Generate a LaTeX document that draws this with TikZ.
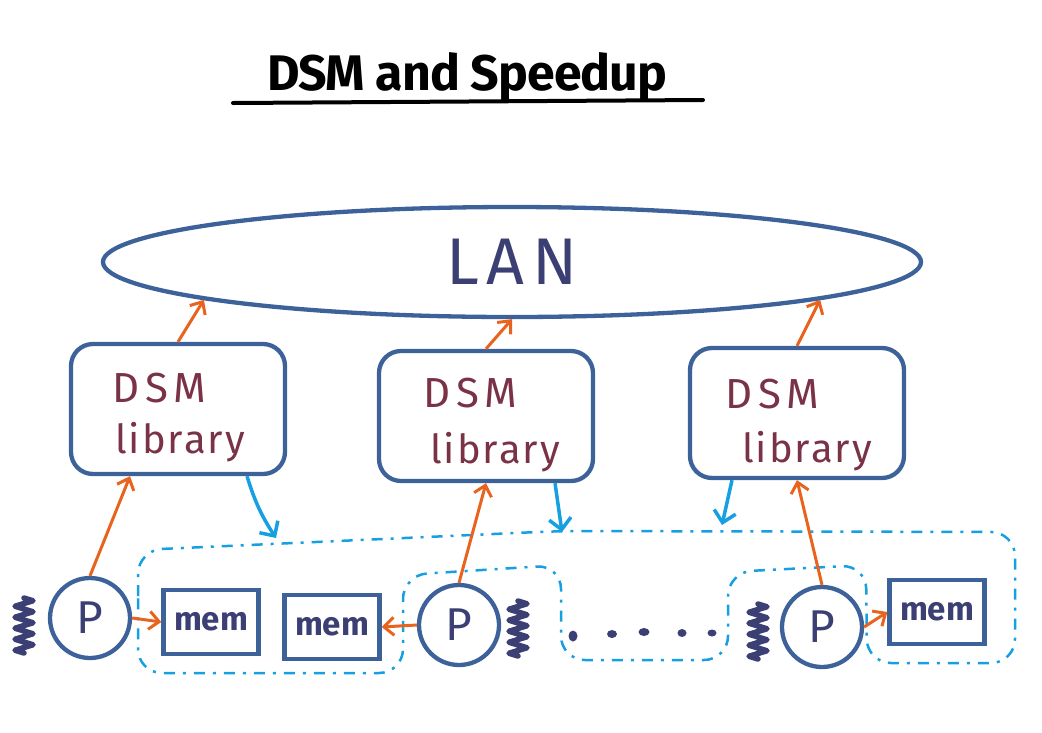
\documentclass[tikz,border=0pt]{standalone}
\usepackage{fontspec}
\setmainfont{Fira Sans}
\usetikzlibrary{shapes.geometric,arrows.meta,calc,decorations.pathmorphing}
\definecolor{boxblue}{RGB}{61,97,153}
\definecolor{navy}{RGB}{59,63,115}
\definecolor{maroon}{RGB}{122,50,70}
\definecolor{orng}{RGB}{232,100,30}
\definecolor{cyanb}{RGB}{22,160,225}
\begin{document}
\begin{tikzpicture}[x=1pt,y=-1pt,
 libbox/.style={draw=boxblue,line width=4.3pt,rounded corners=22pt,minimum width=214pt,minimum height=130pt,inner sep=0pt},
 dsmtext/.style={anchor=base west,inner sep=0pt,text=maroon,font=\fontsize{42}{46}\selectfont\addfontfeature{LetterSpace=14}},
 librtext/.style={anchor=base west,inner sep=0pt,text=maroon,font=\fontsize{40}{46}\selectfont\addfontfeature{LetterSpace=5}},
 membox/.style={draw=boxblue,line width=4.3pt,minimum width=95pt,minimum height=64pt,inner sep=0pt,text=navy,font=\fontsize{33}{35}\selectfont\bfseries},
 proc/.style={circle,draw=boxblue,line width=4.3pt,minimum size=80pt,inner sep=0pt,text=navy,font=\fontsize{46}{48}\selectfont},
 oarrow/.style={draw=orng,line width=3pt,-{Straight Barb[length=10pt,width=18pt]}},
 barrow/.style={draw=cyanb,line width=3.5pt,-{Straight Barb[length=11pt,width=22pt]}},
 spring/.style={draw=navy,line width=5.5pt,line join=round,line cap=round,decorate,decoration={zigzag,segment length=11pt,amplitude=9pt}},
 region/.style={draw=cyanb,line width=2.5pt,rounded corners=24pt,dash pattern=on 11pt off 8pt on 3pt off 8pt},
]
\path[use as bounding box] (0,0) rectangle (1042,732);

% title
\node[anchor=base,font=\fontsize{50}{54}\selectfont\bfseries\addfontfeature{LetterSpace=-2}] (title) at (467,90) {DSM and Speedup};
\coordinate (ul1) at (233,103);
\coordinate (ul2) at (703,100);
\draw[line width=4pt,line cap=round] (ul1) -- (ul2);

% LAN
\node[ellipse,draw=boxblue,line width=4.3pt,minimum width=818pt,minimum height=110pt,inner sep=0pt,text=navy,font=\fontsize{66}{70}\selectfont\addfontfeature{LetterSpace=12}] (lan) at (512,262) {LAN};

% DSM libraries
\node[libbox] (lib1) at (178,409) {};
\node[libbox] (lib2) at (486,416) {};
\node[libbox] (lib3) at (797,413) {};
\node[dsmtext] (d1) at (112,402) {DSM};
\node[librtext] (l1) at (115,453) {library};
\node[dsmtext] (d2) at (423,407) {DSM};
\node[librtext] (l2) at (430,463) {library};
\node[dsmtext] (d3) at (725,408) {DSM};
\node[librtext] (l3) at (742,462) {library};

% processors
\node[proc] (p1) at (90,618) {P};
\node[proc] (p2) at (459,625) {P};
\node[proc] (p3) at (822,627) {P};

% memories
\node[membox] (mem1) at (211,622) {mem};
\node[membox] (mem2) at (332,627) {mem};
\node[membox] (mem3) at (937,612) {mem};

% springs
\coordinate (s1a) at (24,598); \coordinate (s1b) at (24,653);
\coordinate (s2a) at (518,601); \coordinate (s2b) at (518,656);
\coordinate (s3a) at (758,604); \coordinate (s3b) at (758,659);
\draw[spring] (s1a) -- (s1b);
\draw[spring] (s2a) -- (s2b);
\draw[spring] (s3a) -- (s3b);

% dots
\fill[navy] (573,636) ellipse (4.5pt and 5.5pt);
\fill[navy] (612,634) ellipse (5pt and 4pt);
\fill[navy] (644,632) ellipse (5.5pt and 4pt);
\fill[navy] (682,633) ellipse (4.5pt and 4pt);
\fill[navy] (712,633) ellipse (4.5pt and 3.5pt);

% shared memory region
\draw[region] (138,620) -- (138,550) -- (560,531) -- (1015,532) -- (1015,663) -- (867,663) -- (866,565) -- (728,572) -- (728,660) -- (561,660) -- (561,565) -- (403,575) -- (403,673) -- (138,673) -- cycle;

% orange arrows
\draw[oarrow] (lib1.north) -- (lan.187.8);
\draw[oarrow] (lib2.north) -- (lan.south);
\draw[oarrow] (lib3.north) -- (lan.-7.9);
\draw[oarrow] (p1.north) -- ($(lib1.south)+(-48,0)$);
\draw[oarrow] (p2.north) -- (lib2.south);
\draw[oarrow] (p3.north) -- (lib3.south);
\draw[oarrow] (p1.east) -- (mem1.west);
\draw[oarrow] (p2.west) -- (mem2.east);
\draw[oarrow] (p3.east) -- (mem3.west);

% blue arrows
\coordinate (b1) at (276,538);
\coordinate (b2) at (562,532);
\coordinate (b3) at (722,525);
\draw[barrow] ($(lib1.south)+(69,0)$) to[bend right=8] (b1);
\draw[barrow] ($(lib2.south)+(69,0)$) -- (b2);
\draw[barrow] ($(lib3.south)+(-65,0)$) -- (b3);
\end{tikzpicture}
\end{document}
